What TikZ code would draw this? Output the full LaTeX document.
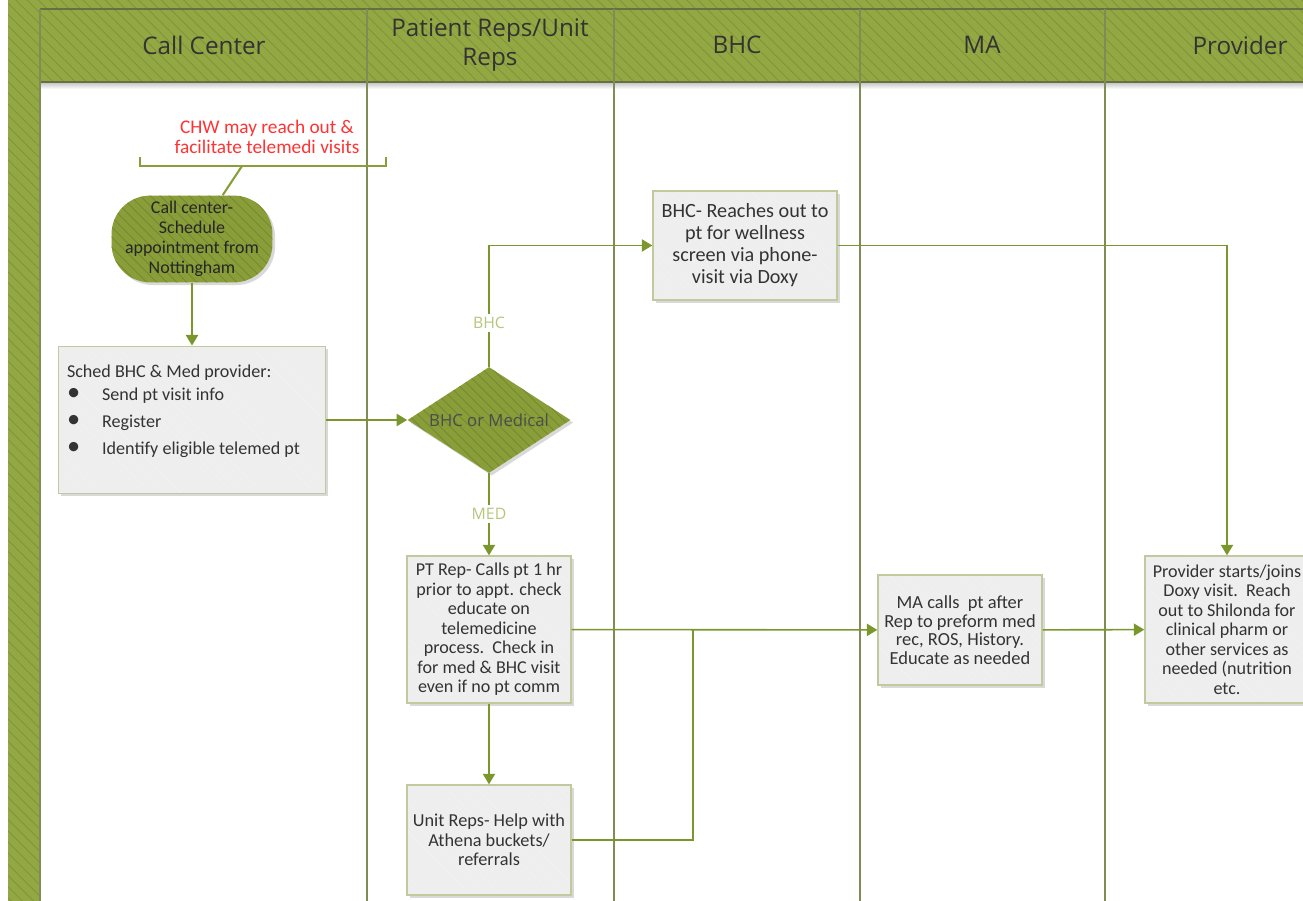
\documentclass[tikz,border=0pt]{standalone}
\usepackage{fontspec}
\setmainfont{Carlito}
\newfontfamily\hdrfont{Open Sans}
\definecolor{lanegreen}{RGB}{147,168,67}
\definecolor{laneline}{RGB}{128,140,86}
\definecolor{flowgreen}{RGB}{122,150,44}
\definecolor{shapegreen}{RGB}{137,158,57}
\definecolor{tagtext}{RGB}{182,198,124}
\definecolor{boxedge}{RGB}{192,202,156}
\definecolor{boxgray}{RGB}{238,238,238}
\definecolor{chwred}{RGB}{255,51,51}
\usetikzlibrary{shapes.geometric, arrows.meta, positioning, shadows, patterns.meta}

\begin{document}
\begin{tikzpicture}[
  x=0.02cm, y=-0.02cm,
  hdr/.style={font=\hdrfont\fontsize{13.8}{17}\selectfont, text=black!80, align=center},
  pbox/.style={draw=boxedge, fill=boxgray, line width=0.8pt, align=center, inner sep=3pt,
    font=\fontsize{10.3}{11.1}\selectfont, text=black!80,
    drop shadow={shadow xshift=1.5pt, shadow yshift=-1.5pt, opacity=0.3},
    postaction={pattern={Lines[angle=-45, distance=3pt, line width=0.3pt]}, pattern color=black!5},
    postaction={draw=boxedge, line width=0.8pt}},
  gshape/.style={fill=shapegreen, text=black!85,
    drop shadow={shadow xshift=1.5pt, shadow yshift=-1.5pt, opacity=0.3},
    postaction={pattern={Lines[angle=-45, distance=4pt, line width=0.5pt]}, pattern color=shapegreen!85!black}},
  flow/.style={draw=flowgreen, line width=0.9pt, -{Triangle[width=7pt, length=6pt]}},
  flowline/.style={draw=flowgreen, line width=0.9pt},
  tag/.style={fill=white, text=tagtext, font=\hdrfont\fontsize{9}{11}\selectfont, inner sep=2pt}
]
  \useasboundingbox (0,0) rectangle (1303,901);
  \fill[lanegreen, postaction={pattern={Lines[angle=-45, distance=4.5pt, line width=0.5pt]}, pattern color=lanegreen!88!black}]
    (8,0) -- (1303,0) -- (1303,82) -- (40,82) -- (40,901) -- (8,901) -- cycle;
  \shade[top color=black!25, bottom color=white] (40,82) rectangle (1303,89);
  \draw[laneline!80!black, line width=1pt] (40,9) -- (1303,9);
  \draw[laneline!80!black, line width=1pt] (40,82) -- (1303,82);
  \foreach \lx in {40,367,614,860,1105}
    \draw[laneline, line width=1.2pt] (\lx,9) -- (\lx,901);

  \node[hdr] (hcall) at (204,45) {Call Center};
  \node[hdr] (hreps) at (490,45) {Patient Reps/Unit\\Reps};
  \node[hdr] (hbhc) at (737,45) {BHC};
  \node[hdr] (hma) at (982,45) {MA};
  \node[hdr] (hprov) at (1240,45) {Provider};

  \node[text=chwred, align=center, font=\fontsize{11}{11}\selectfont] (chw) at (267,137)
    {CHW may reach out \&\\facilitate telemedi visits};
  \draw[shapegreen, line width=1.2pt] (140,157) -- (140,166) -- (386,166) -- (386,157);
  \coordinate (brk) at (242,166);

  \node[gshape, rounded corners=22pt, minimum width=3.22cm, minimum height=1.72cm, align=center,
    font=\fontsize{10.2}{11.3}\selectfont] (call) at (192,239)
    {Call center-\\Schedule\\appointment from\\Nottingham};
  \draw[shapegreen, line width=1.2pt] (brk) -- (call.55);

  \node[pbox, align=left, inner sep=5pt, minimum width=5.34cm, minimum height=2.92cm] (sched) at (192,420)
    {\parbox[t][2.6cm][t]{5.0cm}{\vspace{5.5pt}\fontsize{10.3}{11.3}\selectfont Sched BHC \& Med provider:\\[2pt]
      \makebox[20pt][l]{\fontsize{15}{11}\selectfont\textbullet}Send pt visit info\\[4pt]
      \makebox[20pt][l]{\fontsize{15}{11}\selectfont\textbullet}Register\\[4pt]
      \makebox[20pt][l]{\fontsize{15}{11}\selectfont\textbullet}Identify eligible telemed pt}};

  \node[gshape, diamond, aspect=1.5, inner sep=0pt, minimum width=3.26cm, minimum height=2.12cm,
    font=\hdrfont\fontsize{9.5}{11}\selectfont, text=black!70] (dec) at (489,420) {BHC or Medical};

  \node[pbox, minimum width=3.68cm, minimum height=2.18cm, font=\fontsize{11.5}{12.5}\selectfont] (bhc) at (745,245.5)
    {BHC- Reaches out to\\pt for wellness\\screen via phone-\\visit via Doxy};
  \node[pbox, minimum width=3.28cm, minimum height=2.94cm] (pt) at (489,629.5)
    {PT Rep- Calls pt 1 hr\\prior to appt. check\\educate on\\telemedicine\\process.\ \ Check in\\for med \& BHC visit\\even if no pt comm};
  \node[pbox, minimum width=3.28cm, minimum height=2.2cm, font=\fontsize{10.4}{11.1}\selectfont] (unit) at (489,840)
    {Unit Reps- Help with\\Athena buckets/\\referrals};
  \node[pbox, minimum width=3.28cm, minimum height=2.2cm, font=\fontsize{10.5}{10.6}\selectfont] (ma) at (960,630)
    {MA calls\ \ pt after\\Rep to preform med\\rec, ROS, History.\\Educate as needed};
  \node[pbox, minimum width=3.28cm, minimum height=2.94cm] (prov) at (1227,629.5)
    {Provider starts/joins\\Doxy visit.\ \ Reach\\out to Shilonda for\\clinical pharm or\\other services as\\needed (nutrition\\etc.};
  \coordinate (join) at (693,630);

  \draw[flow] (call) -- (sched);
  \draw[flow] (sched) -- (dec);
  \draw[flow] (dec.north) |- node[tag, pos=0.18] {BHC} (bhc.west);
  \draw[flow] (dec) -- node[tag] {MED} (pt);
  \draw[flow] (bhc.east) -| (prov.north);
  \draw[flow] (pt) -- (ma);
  \draw[flow] (pt) -- (unit);
  \draw[flowline] (unit.east) -| (join);
  \draw[flow] (ma) -- (prov);
\end{tikzpicture}
\end{document}
